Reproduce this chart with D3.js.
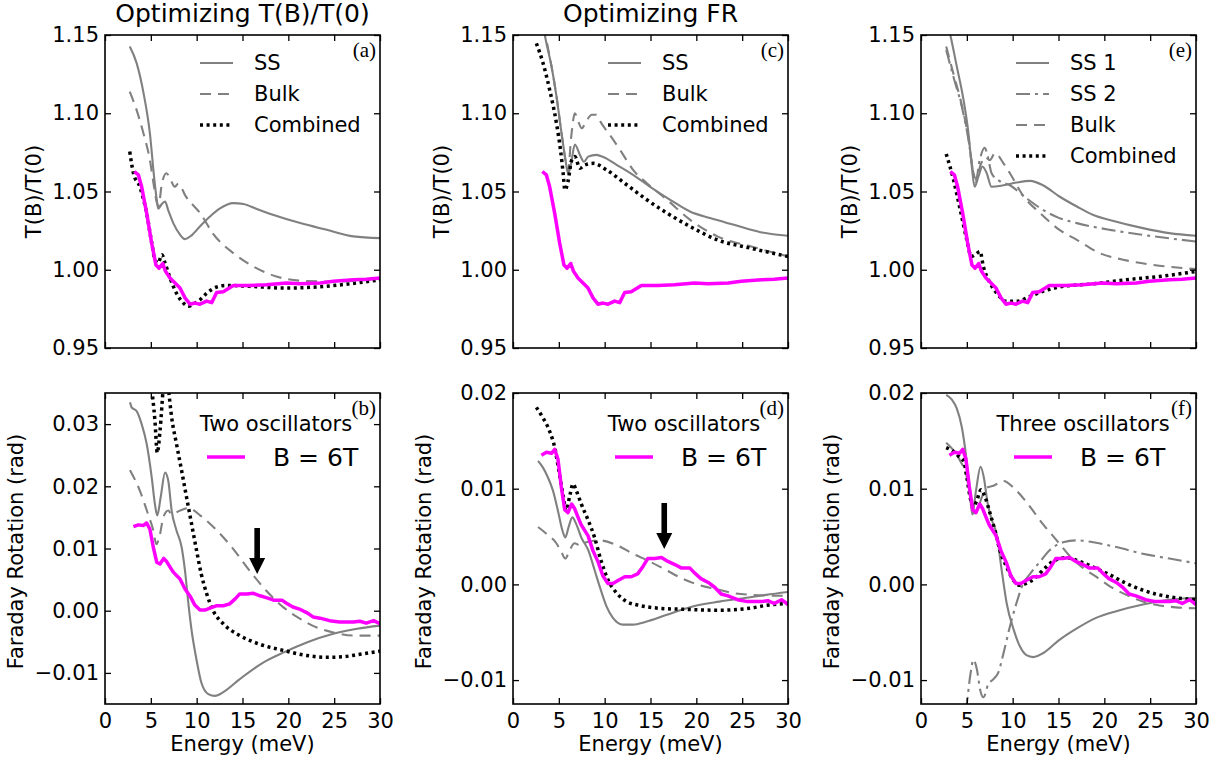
<!DOCTYPE html>
<html>
<head>
<meta charset="utf-8">
<script src="https://cdn.jsdelivr.net/npm/d3@7"></script>
<style>
  body { margin: 0; background: #fff; }
</style>
</head>
<body>
<script>
// ---- data ----
var energyTicks = [0, 5, 10, 15, 20, 25, 30]
var tbTicks = [0.95, 1.00, 1.05, 1.10, 1.15]
var frTicksB = [-0.01, 0, 0.01, 0.02, 0.03]
var frTicksDF = [-0.01, 0, 0.01, 0.02]

// measured curves (magenta), same in every column
var measTB = [[3.2,1.0628],[3.64,1.0606],[4.0,1.053],[4.55,1.036],[5.09,1.017],[5.56,1.003],[5.9,1.001],[6.3,1.004],[6.6,0.999],[7.09,0.9947],[7.64,0.9915],[8.18,0.9883],[8.73,0.982],[9.27,0.978],[9.82,0.9787],[10.36,0.978],[11.09,0.980],[11.64,0.979],[12.18,0.9855],[12.9,0.986],[14,0.990],[15.8,0.990],[17.6,0.9904],[19.8,0.9915],[21.3,0.991],[23.5,0.9915],[24.9,0.9926],[27.1,0.9936],[28.5,0.994],[30,0.9947]]
var measFR = [[3.1,0.0135],[3.64,0.0138],[4.2,0.0137],[4.55,0.0141],[4.9,0.0131],[5.27,0.0102],[5.64,0.0078],[6.0,0.0075],[6.4,0.0084],[6.73,0.0079],[7.1,0.007],[7.45,0.0062],[8.18,0.0051],[8.73,0.0035],[9.3,0.0023],[9.8,0.0009],[10.36,0.0001],[10.9,0.0001],[11.45,0.0004],[12.2,0.0008],[12.9,0.0008],[13.6,0.0011],[14.2,0.0019],[14.7,0.0027],[15.45,0.0027],[16.2,0.0028],[16.9,0.0024],[17.6,0.0021],[18.4,0.0017],[19.3,0.0017],[19.8,0.0012],[20.5,0.0006],[21.3,0.0002],[22,-0.0003],[22.7,-0.001],[23.45,-0.0012],[24.5,-0.0016],[25.6,-0.0018],[27.1,-0.0018],[27.8,-0.0017],[28.5,-0.002],[29.3,-0.0016],[30,-0.0021]]

// (a) optimizing T(B)/T(0)
var aSS = [[2.7,1.1426],[3.45,1.132],[4.2,1.113],[4.9,1.087],[5.35,1.0596],[5.64,1.045],[5.8,1.039],[6.2,1.042],[6.55,1.0436],[6.9,1.038],[7.45,1.0298],[8.2,1.0223],[8.7,1.0196],[9.45,1.022],[10.4,1.028],[11.45,1.034],[12.5,1.039],[14,1.0426],[15.1,1.042],[16.5,1.039],[18.4,1.035],[21.3,1.0298],[24.2,1.0255],[27.1,1.0213],[30,1.0202]]
var aBulk = [[2.7,1.1138],[3.45,1.102],[4.2,1.087],[4.9,1.070],[5.35,1.053],[5.65,1.043],[5.85,1.041],[6.2,1.055],[6.7,1.0617],[7.2,1.057],[7.6,1.053],[8.0,1.055],[8.8,1.047],[10.4,1.036],[11.8,1.023],[14,1.0106],[16.2,1.002],[18.7,0.9957],[21.3,0.993],[24.9,0.9925],[30,0.994]]
var aComb = [[2.7,1.0755],[3.1,1.0617],[3.8,1.053],[4.55,1.036],[5.1,1.017],[5.45,1.0064],[5.8,1.0043],[6.2,1.0096],[6.55,1.0043],[7.1,0.9947],[7.8,0.985],[8.55,0.9787],[9.1,0.9766],[9.65,0.978],[10.4,0.981],[11.1,0.985],[12.2,0.989],[13.3,0.990],[15.8,0.9894],[19.5,0.9883],[23.1,0.989],[26.7,0.991],[30,0.9936]]

// (b)
var bSS = [[2.73,0.0335],[2.9,0.0327],[3.45,0.0321],[4.0,0.030],[4.55,0.0268],[5.1,0.0214],[5.45,0.0171],[5.7,0.0153],[6.07,0.0182],[6.55,0.0222],[6.9,0.0209],[7.27,0.0161],[7.8,0.0129],[8.36,0.0102],[8.73,0.0064],[9.1,0.0011],[9.45,-0.0032],[10,-0.008],[10.5,-0.0115],[11.27,-0.0134],[12,-0.0137],[12.9,-0.0131],[14.7,-0.011],[17.3,-0.0083],[19.5,-0.0067],[22,-0.0051],[24.9,-0.0037],[27.5,-0.0029],[30,-0.0024]]
var bBulk = [[2.73,0.0226],[3.8,0.0193],[4.7,0.0155],[5.27,0.0129],[5.6,0.0107],[6.0,0.0123],[6.36,0.015],[6.9,0.0161],[7.27,0.0155],[8.2,0.0161],[9.1,0.0165],[10.4,0.0153],[12.2,0.0129],[14,0.0099],[15.8,0.0064],[17.6,0.0032],[19.5,0.0005],[21.3,-0.0013],[23.1,-0.0027],[24.9,-0.0035],[27.1,-0.004],[30,-0.004]]
var bComb = [[2.73,0.065],[4.0,0.05],[5.0,0.037],[5.45,0.0305],[5.7,0.0254],[6.0,0.0289],[6.36,0.036],[6.6,0.04],[6.9,0.036],[7.27,0.0311],[7.8,0.0268],[8.36,0.0225],[8.9,0.0182],[9.45,0.0139],[10,0.0096],[10.5,0.0059],[11.1,0.0027],[11.8,0.0],[12.9,-0.0021],[14.7,-0.004],[16.9,-0.0054],[19.5,-0.0064],[22,-0.0072],[24.2,-0.0075],[26,-0.0074],[27.8,-0.007],[30,-0.0065]]

// (c) optimizing FR
var cSS = [[3.3,1.156],[3.47,1.15],[4.2,1.13],[4.74,1.111],[5.3,1.087],[5.73,1.070],[6.0,1.0617],[6.28,1.066],[6.75,1.080],[7.3,1.0734],[7.74,1.069],[8.2,1.0723],[9.1,1.0734],[9.85,1.072],[11.3,1.067],[13.1,1.0606],[14.96,1.053],[17.15,1.0447],[19.3,1.0372],[21.5,1.033],[24.1,1.0287],[27,1.024],[30,1.0217]]
var cBulk = [[3.3,1.156],[4.2,1.13],[4.74,1.111],[5.3,1.087],[5.73,1.07],[6.0,1.063],[6.35,1.085],[6.75,1.10],[7.1,1.095],[7.5,1.0904],[8.0,1.095],[8.6,1.099],[9.1,1.099],[9.6,1.094],[10.7,1.085],[11.8,1.0755],[13.1,1.0638],[14.6,1.0553],[16.8,1.0447],[19.3,1.032],[22.3,1.0213],[25.9,1.015],[30,1.0085]]
var cComb = [[2.55,1.1447],[3.28,1.132],[4.0,1.115],[4.74,1.0936],[5.18,1.0766],[5.47,1.0617],[5.66,1.051],[6.0,1.0564],[6.4,1.070],[6.75,1.0723],[7.3,1.0649],[7.85,1.067],[8.76,1.068],[10.2,1.0638],[12.4,1.0543],[14.6,1.0447],[16.8,1.0362],[19.3,1.0277],[22.3,1.0191],[25.9,1.0138],[30,1.0085]]

// (d)
var dSS = [[2.73,0.0129],[3.27,0.0122],[3.8,0.0112],[4.36,0.0098],[4.9,0.0077],[5.4,0.0056],[5.7,0.0049],[6.07,0.006],[6.47,0.007],[6.9,0.0063],[7.45,0.0049],[8.2,0.0036],[8.9,0.0015],[9.45,-0.0002],[10.2,-0.0023],[10.9,-0.0035],[12,-0.0042],[13.1,-0.0042],[14.5,-0.0039],[16.7,-0.0032],[19.6,-0.0023],[22.5,-0.0018],[25.5,-0.0014],[27.6,-0.0011],[30,-0.0008]]
var dBulk = [[2.73,0.006],[3.64,0.0053],[4.73,0.0043],[5.27,0.0034],[5.7,0.0027],[6.2,0.0036],[6.7,0.0043],[7.27,0.0041],[8.0,0.0044],[9.45,0.0046],[11.3,0.0041],[13.1,0.0032],[14.9,0.0024],[16.7,0.0015],[18.5,0.0006],[20.4,-0.0001],[22.2,-0.0005],[24,-0.0009],[26.2,-0.0011],[30,-0.0012]]
var dComb = [[2.55,0.0185],[3.27,0.0174],[4.0,0.016],[4.55,0.0143],[5.0,0.0119],[5.45,0.0094],[5.8,0.0077],[6.2,0.0093],[6.55,0.0105],[6.9,0.0098],[7.45,0.0084],[8.2,0.0067],[8.9,0.0049],[9.6,0.0025],[10.4,0.0004],[11.3,-0.0009],[12.4,-0.0018],[13.8,-0.0022],[16,-0.0025],[18.5,-0.0026],[22.2,-0.0027],[25.8,-0.0025],[27.6,-0.0022],[30,-0.002]]

// (e) three oscillators
var eSS1 = [[3.0,1.155],[3.2,1.15],[3.9,1.13],[4.64,1.1085],[5.18,1.087],[5.54,1.066],[5.85,1.053],[6.27,1.0596],[6.7,1.066],[7.17,1.0617],[7.7,1.053],[9.0,1.054],[10.4,1.0557],[11.9,1.0568],[13.3,1.054],[15.1,1.0468],[17,1.0404],[18.8,1.035],[20.9,1.0313],[24.2,1.0266],[27.1,1.0234],[30,1.0217]]
var eSS2 = [[2.75,1.1404],[3.55,1.123],[4.46,1.104],[5.18,1.083],[5.72,1.0617],[5.95,1.056],[6.4,1.07],[6.95,1.078],[7.3,1.072],[7.7,1.0617],[8.5,1.057],[9.7,1.054],[11.5,1.0457],[13.3,1.0383],[15.1,1.033],[17,1.0298],[20.6,1.0255],[24.2,1.0223],[30,1.018]]
var eBulk = [[2.75,1.1426],[3.55,1.125],[4.46,1.105],[5.18,1.084],[5.72,1.062],[6.0,1.058],[6.5,1.067],[7.0,1.072],[7.5,1.070],[8.08,1.0745],[9.0,1.068],[9.7,1.0617],[11.2,1.0468],[13.0,1.0362],[15.1,1.0255],[17,1.0191],[19.5,1.0106],[22.4,1.006],[26,1.0026],[30,1.0004]]
var eComb = [[2.75,1.074],[3.55,1.0574],[4.28,1.0383],[5.0,1.0191],[5.47,1.0085],[5.9,1.0096],[6.45,1.0117],[6.8,1.0021],[7.35,0.9936],[8.26,0.985],[9.35,0.9798],[10.4,0.9798],[11.9,0.983],[13.3,0.9862],[15.5,0.9894],[18.8,0.991],[22.4,0.9936],[26,0.9957],[30,0.9989]]

// (f)
var fSS1 = [[2.75,0.0198],[3.37,0.0193],[3.9,0.0184],[4.46,0.0164],[4.93,0.0133],[5.29,0.0100],[5.6,0.0073],[6.0,0.0098],[6.5,0.0123],[6.85,0.0112],[7.25,0.0086],[7.7,0.0068],[8.26,0.0052],[8.8,0.0015],[9.35,-0.002],[10.1,-0.0047],[10.8,-0.0065],[11.5,-0.0074],[12.25,-0.0076],[13.3,-0.0072],[15.1,-0.0058],[17,-0.0046],[19.1,-0.0035],[21.3,-0.0028],[24.2,-0.0021],[27.1,-0.0016],[30,-0.0014]]
var fSS2 = [[2.75,-0.03],[4.0,-0.02],[4.8,-0.0135],[5.0,-0.0124],[5.36,-0.0096],[5.72,-0.0079],[6.1,-0.0089],[6.45,-0.011],[6.8,-0.0118],[7.35,-0.0104],[7.9,-0.0099],[8.44,-0.0092],[9.0,-0.0072],[9.7,-0.0044],[10.4,-0.002],[11.16,0.0001],[11.9,0.0011],[13,0.0024],[14.06,0.0036],[15.5,0.0044],[17,0.0046],[18.8,0.0044],[21.3,0.0039],[24.2,0.0032],[27.1,0.0027],[30,0.0022]]
var fBulk = [[2.75,0.0148],[3.55,0.014],[4.28,0.0129],[5.0,0.0112],[5.36,0.0091],[5.72,0.0074],[6.1,0.0077],[6.63,0.0091],[7.17,0.0101],[7.9,0.0103],[9.0,0.0108],[10.1,0.0101],[11.5,0.0086],[13.3,0.0063],[14.8,0.0046],[16.2,0.003],[17.7,0.0017],[19.1,0.0008],[20.6,-0.0002],[22.4,-0.0011],[24.2,-0.0018],[26,-0.0022],[27.8,-0.0024],[30,-0.0025]]
var fComb = [[2.75,0.0143],[3.37,0.014],[4.1,0.0134],[4.64,0.0129],[5.0,0.0112],[5.36,0.0091],[5.72,0.0081],[6.1,0.0088],[6.55,0.0099],[7.0,0.0091],[7.54,0.0074],[8.08,0.0056],[8.6,0.0036],[9.35,0.0018],[10.1,0.0004],[10.8,-0.0001],[11.5,0.0001],[12.6,0.0008],[13.3,0.0015],[14.4,0.0024],[15.9,0.0028],[17,0.0025],[18.8,0.0018],[20.6,0.001],[22.4,0.0001],[24.2,-0.0006],[26,-0.0011],[27.8,-0.0014],[30,-0.0016]]

// arrows marking the feature near 16 meV: [panel, energy, from, to]
var arrows = [["b", 16.6, 0.0133, 0.0059], ["d", 16.5, 0.0085, 0.0037]]

// ---- styles ----
var gray = "#808080"
var styles = {
  ss:   {stroke: gray, width: 2.1, dash: null},
  ss2:  {stroke: gray, width: 2.1, dash: "14,5,3,5"},
  bulk: {stroke: gray, width: 2.1, dash: "11,7"},
  comb: {stroke: "#000", width: 3.5, dash: "3,3.6"},
  meas: {stroke: "#ff00ff", width: 3.5, dash: null}
}
var sans = "DejaVu Sans, sans-serif"

var width = 1223, height = 765
var colLeft = [105, 513, 921], pw = 275
var rowTop = [35, 393], rowH = [313, 311]

var panels = [
  {id: "a", col: 0, row: 0, domain: [0.95, 1.15], ticks: tbTicks,
   series: [["ss", aSS], ["bulk", aBulk], ["comb", aComb], ["meas", measTB]],
   legend: [["ss", "SS"], ["bulk", "Bulk"], ["comb", "Combined"]], title: "Optimizing T(B)/T(0)"},
  {id: "c", col: 1, row: 0, domain: [0.95, 1.15], ticks: tbTicks,
   series: [["ss", cSS], ["bulk", cBulk], ["comb", cComb], ["meas", measTB]],
   legend: [["ss", "SS"], ["bulk", "Bulk"], ["comb", "Combined"]], title: "Optimizing FR"},
  {id: "e", col: 2, row: 0, domain: [0.95, 1.15], ticks: tbTicks,
   series: [["ss", eSS1], ["ss2", eSS2], ["bulk", eBulk], ["comb", eComb], ["meas", measTB]],
   legend: [["ss", "SS 1"], ["ss2", "SS 2"], ["bulk", "Bulk"], ["comb", "Combined"]]},
  {id: "b", col: 0, row: 1, domain: [-0.015, 0.035], ticks: frTicksB,
   series: [["ss", bSS], ["bulk", bBulk], ["comb", bComb], ["meas", measFR]],
   ltitle: "Two oscillators", lshift: 0},
  {id: "d", col: 1, row: 1, domain: [-0.0125, 0.02], ticks: frTicksDF,
   series: [["ss", dSS], ["bulk", dBulk], ["comb", dComb], ["meas", measFR]],
   ltitle: "Two oscillators", lshift: 0},
  {id: "f", col: 2, row: 1, domain: [-0.0125, 0.02], ticks: frTicksDF,
   series: [["ss", fSS1], ["ss2", fSS2], ["bulk", fBulk], ["comb", fComb], ["meas", measFR]],
   ltitle: "Three oscillators", lshift: 9}
]

var svg = d3.select("body").append("svg")
    .attr("width", width)
    .attr("height", height)
    .style("font-family", sans)

var fmtTB = d3.format(".2f")
var fmtFR = function(d){ return d3.format(".2f")(d).replace("-", "\u2212") }

panels.forEach(function(p){
  var x0 = colLeft[p.col], y0 = rowTop[p.row], h = rowH[p.row]
  var x = d3.scaleLinear().domain([0, 30]).range([x0, x0 + pw])
  var y = d3.scaleLinear().domain(p.domain).range([y0 + h, y0])
  var g = svg.append("g")

  g.append("clipPath").attr("id", "clip-" + p.id)
    .append("rect").attr("x", x0).attr("y", y0).attr("width", pw).attr("height", h)

  var line = d3.line()
      .x(function(d){ return x(d[0]) })
      .y(function(d){ return y(d[1]) })

  var plot = g.append("g").attr("clip-path", "url(#clip-" + p.id + ")")
  p.series.forEach(function(s){
    var st = styles[s[0]]
    plot.append("path")
      .datum(s[1])
      .attr("d", line.curve(s[0] == "meas" ? d3.curveLinear : d3.curveMonotoneX))
      .attr("fill", "none")
      .attr("stroke", st.stroke)
      .attr("stroke-width", st.width)
      .attr("stroke-dasharray", st.dash)
      .attr("stroke-linejoin", "round")
  })

  // axes, ticks inward on all sides
  var isBottom = p.row == 1
  var yfmt = isBottom ? fmtFR : fmtTB
  g.append("g").attr("transform", "translate(" + x0 + ",0)")
    .call(d3.axisLeft(y).tickValues(p.ticks).tickFormat(yfmt).tickSizeInner(-6).tickSizeOuter(0).tickPadding(6))
  g.append("g").attr("transform", "translate(" + (x0 + pw) + ",0)")
    .call(d3.axisRight(y).tickValues(p.ticks).tickFormat("").tickSizeInner(-6).tickSizeOuter(0))
  g.append("g").attr("transform", "translate(0," + (y0 + h) + ")")
    .call(d3.axisBottom(x).tickValues(energyTicks).tickFormat(isBottom ? d3.format("d") : "").tickSizeInner(-6).tickSizeOuter(0).tickPadding(9))
  g.append("g").attr("transform", "translate(0," + y0 + ")")
    .call(d3.axisTop(x).tickValues(energyTicks).tickFormat("").tickSizeInner(-6).tickSizeOuter(0))
  g.selectAll(".domain").remove()
  g.selectAll(".tick line").attr("stroke", "#000").attr("stroke-width", 1.3)
  g.selectAll(".tick text").attr("font-size", 21).attr("font-family", sans).attr("fill", "#000")

  g.append("rect")
    .attr("x", x0).attr("y", y0).attr("width", pw).attr("height", h)
    .attr("fill", "none").attr("stroke", "#000").attr("stroke-width", 1.6)

  // axis labels
  var ylab = isBottom ? "Faraday Rotation (rad)" : "T(B)/T(0)"
  var yoff = isBottom ? 82 : 64
  g.append("text")
    .attr("transform", "translate(" + (x0 - yoff) + "," + (y0 + h / 2 + (isBottom ? 3 : 0)) + ") rotate(-90)")
    .attr("text-anchor", "middle").attr("font-size", 21)
    .text(ylab)
  if (isBottom) {
    g.append("text")
      .attr("x", x0 + pw / 2).attr("y", 751)
      .attr("text-anchor", "middle").attr("font-size", 21)
      .text("Energy (meV)")
  }
  if (p.title) {
    g.append("text")
      .attr("x", x0 + pw / 2).attr("y", 22)
      .attr("text-anchor", "middle").attr("font-size", 25)
      .text(p.title)
  }

  // panel letter (serif, like the LaTeX labels)
  g.append("text")
    .attr("x", x0 + pw - 4).attr("y", y0 + 22)
    .attr("text-anchor", "end")
    .style("font-family", "Liberation Serif, serif")
    .attr("font-size", 21)
    .text("(" + p.id + ")")

  // legends
  var right = x0 + pw
  if (p.legend) {
    p.legend.forEach(function(l, i){
      var st = styles[l[0]]
      var ly = y0 + 28 + i * 31
      g.append("line")
        .attr("x1", right - 180).attr("x2", right - 147)
        .attr("y1", ly).attr("y2", ly)
        .attr("stroke", st.stroke).attr("stroke-width", st.width)
        .attr("stroke-dasharray", st.dash)
      g.append("text")
        .attr("x", right - 126).attr("y", ly + 7)
        .attr("font-size", 21)
        .text(l[1])
    })
  } else {
    var sh = p.lshift
    g.append("text")
      .attr("x", right - 104 - sh).attr("y", y0 + 38)
      .attr("text-anchor", "middle").attr("font-size", 21)
      .text(p.ltitle)
    g.append("line")
      .attr("x1", right - 173 - sh).attr("x2", right - 135 - sh)
      .attr("y1", y0 + 64).attr("y2", y0 + 64)
      .attr("stroke", styles.meas.stroke).attr("stroke-width", styles.meas.width)
    g.append("text")
      .attr("x", right - 107 - sh).attr("y", y0 + 73)
      .attr("font-size", 25)
      .text("B = 6T")
  }

  // arrows
  arrows.filter(function(a){ return a[0] == p.id }).forEach(function(a){
    var ax = x(a[1]), ya = y(a[2]), yb = y(a[3])
    var hw = 8, sw = 2.8, hl = 16
    g.append("path")
      .attr("d", "M" + (ax - sw) + "," + ya + "L" + (ax + sw) + "," + ya +
        "L" + (ax + sw) + "," + (yb - hl) + "L" + (ax + hw) + "," + (yb - hl) +
        "L" + ax + "," + yb + "L" + (ax - hw) + "," + (yb - hl) +
        "L" + (ax - sw) + "," + (yb - hl) + "Z")
      .attr("fill", "#000")
  })
})
</script>
</body>
</html>
